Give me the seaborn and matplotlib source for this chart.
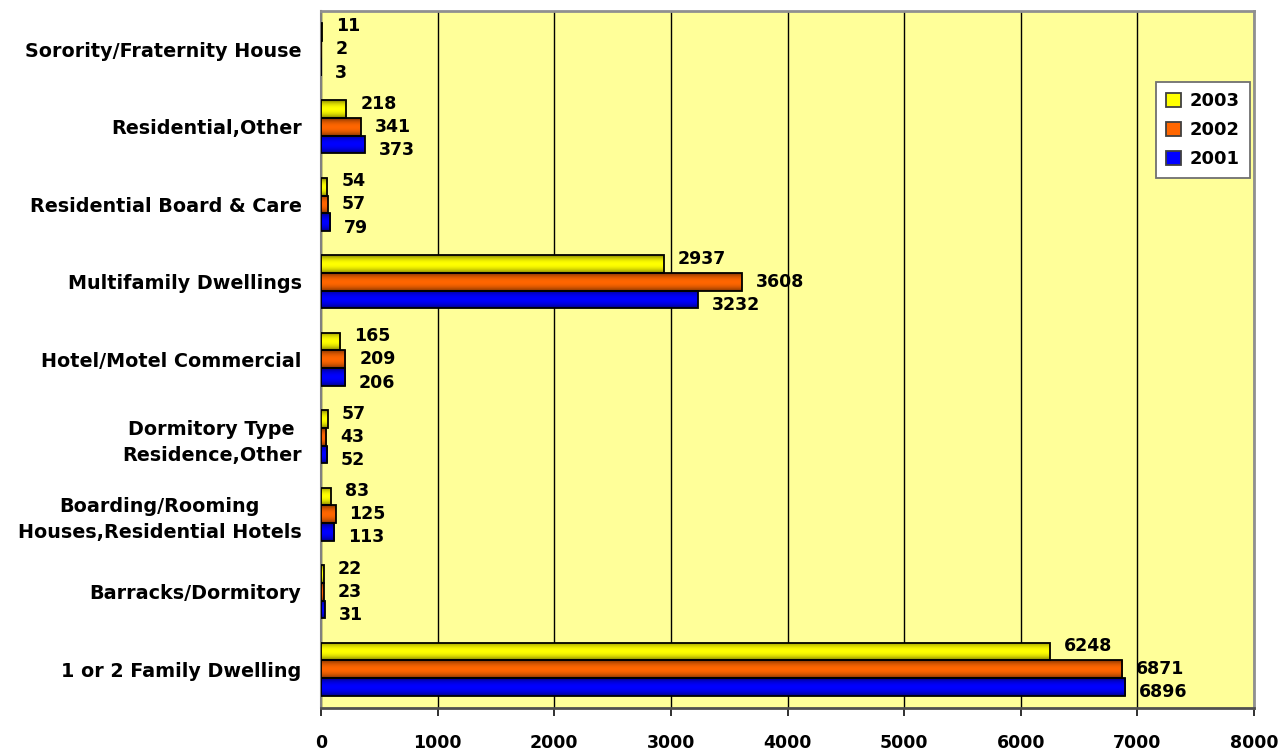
import matplotlib
matplotlib.use("Agg")
import matplotlib.pyplot as plt
import matplotlib.colors as mcolors
import seaborn as sns
import pandas as pd
import numpy as np

categories = [
    "Sorority/Fraternity House",
    "Residential,Other",
    "Residential Board & Care",
    "Multifamily Dwellings",
    "Hotel/Motel Commercial",
    "Dormitory Type\nResidence,Other",
    "Boarding/Rooming\nHouses,Residential Hotels",
    "Barracks/Dormitory",
    "1 or 2 Family Dwelling",
]
years = ["2003", "2002", "2001"]
values_2003 = [11, 218, 54, 2937, 165, 57, 83, 22, 6248]
values_2002 = [2, 341, 57, 3608, 209, 43, 125, 23, 6871]
values_2001 = [3, 373, 79, 3232, 206, 52, 113, 31, 6896]
x_ticks = [0, 1000, 2000, 3000, 4000, 5000, 6000, 7000, 8000]

colors = {"2003": "#FFFF00", "2002": "#FF6600", "2001": "#0000FF"}

rows = []
for yr, vals in zip(years, [values_2003, values_2002, values_2001]):
    for c, v in zip(categories, vals):
        rows.append({"category": c, "year": yr, "value": v})
df = pd.DataFrame(rows)

sns.set_theme(style="white")
plt.rcParams["font.family"] = ["Liberation Sans", "DejaVu Sans"]
plt.rcParams["font.weight"] = "bold"
plt.rcParams["text.color"] = "black"
plt.rcParams["xtick.color"] = "black"
plt.rcParams["ytick.color"] = "black"

fig = plt.figure(figsize=(12.83, 7.51), dpi=100)
ax = fig.add_axes([0.2502, 0.0573, 0.9774 - 0.2502, 0.9858 - 0.0573])
ax.set_facecolor("#FFFF99")

sns.barplot(data=df, y="category", x="value", hue="year", order=categories,
            hue_order=years, palette=colors, saturation=1, orient="h", width=0.684,
            edgecolor="black", linewidth=1.3, ax=ax, legend=True, zorder=3)

ax.set_xlim(0, 8000)
ax.set_ylim(len(categories) - 0.5, -0.5)

# gradient shading inside bars (darker toward top/bottom edges)
t = np.linspace(0, 1, 64)
shade = 0.45 + 0.55 * np.sin(np.pi * t) ** 0.7
for cont, yr in zip(ax.containers, years):
    base = np.array(mcolors.to_rgb(colors[yr]))
    img = (shade[:, None] * base[None, :])[:, None, :]
    for bar in cont:
        x0, y0 = bar.get_x(), bar.get_y()
        w, h = bar.get_width(), bar.get_height()
        im = ax.imshow(img, extent=(x0, x0 + w, y0 + h, y0), aspect="auto",
                       interpolation="bilinear", zorder=3.5)
        im.set_clip_path(bar)
        bar.set_facecolor("none")
        bar.set_zorder(4)
ax.set_xlim(0, 8000)
ax.set_ylim(len(categories) - 0.5, -0.5)

# value labels
for cont, dy in zip(ax.containers, [4, 0, -4]):
    for bar in cont:
        w = bar.get_width()
        yc = bar.get_y() + bar.get_height() / 2
        ax.annotate(f"{int(w)}", xy=(w, yc), xytext=(10, dy), textcoords="offset points",
                    ha="left", va="center", fontsize=12.5, fontweight="bold", color="black",
                    family="DejaVu Sans", zorder=6)

ax.set_xticks(x_ticks)
ax.set_xticklabels([str(t) for t in x_ticks], fontsize=12.5, fontweight="bold",
                   family="DejaVu Sans")
ax.xaxis.grid(True, color="black", linewidth=1.0, zorder=0)
ax.set_axisbelow(True)
ax.yaxis.grid(False)

ax.set_yticks(range(len(categories)))
ax.set_yticklabels(categories, fontsize=13.8, fontweight="bold", multialignment="center",
                   family="DejaVu Sans", linespacing=1.45)
ax.set_yticks(np.arange(-0.5, len(categories), 1.0), minor=True)
ax.tick_params(axis="y", which="major", length=0, pad=14)
ax.tick_params(axis="y", which="minor", length=8, width=1.3, color="#707070", direction="out")
ax.tick_params(axis="x", which="major", length=6, width=1.3, color="#202020",
               direction="out", pad=13, bottom=True)
ax.set_xlabel("")
ax.set_ylabel("")

for s in ["top", "right"]:
    ax.spines[s].set_color("#909090")
    ax.spines[s].set_linewidth(2.0)
ax.spines["left"].set_color("#808080")
ax.spines["left"].set_linewidth(1.5)
ax.spines["bottom"].set_color("#505050")
ax.spines["bottom"].set_linewidth(2.0)

leg = ax.legend(loc="upper right", bbox_to_anchor=(0.9957, 0.8977), frameon=True,
                fancybox=False, edgecolor="#707070", facecolor="white", framealpha=1,
                prop={"size": 13, "weight": "bold", "family": "DejaVu Sans"},
                handlelength=0.85, handleheight=0.8,
                handletextpad=0.5, labelspacing=0.62, borderpad=0.55, borderaxespad=0)
leg.get_frame().set_linewidth(1.3)
for h in leg.legend_handles:
    h.set_edgecolor("#404040")

fig.savefig("out.png", dpi=100, facecolor="white")
